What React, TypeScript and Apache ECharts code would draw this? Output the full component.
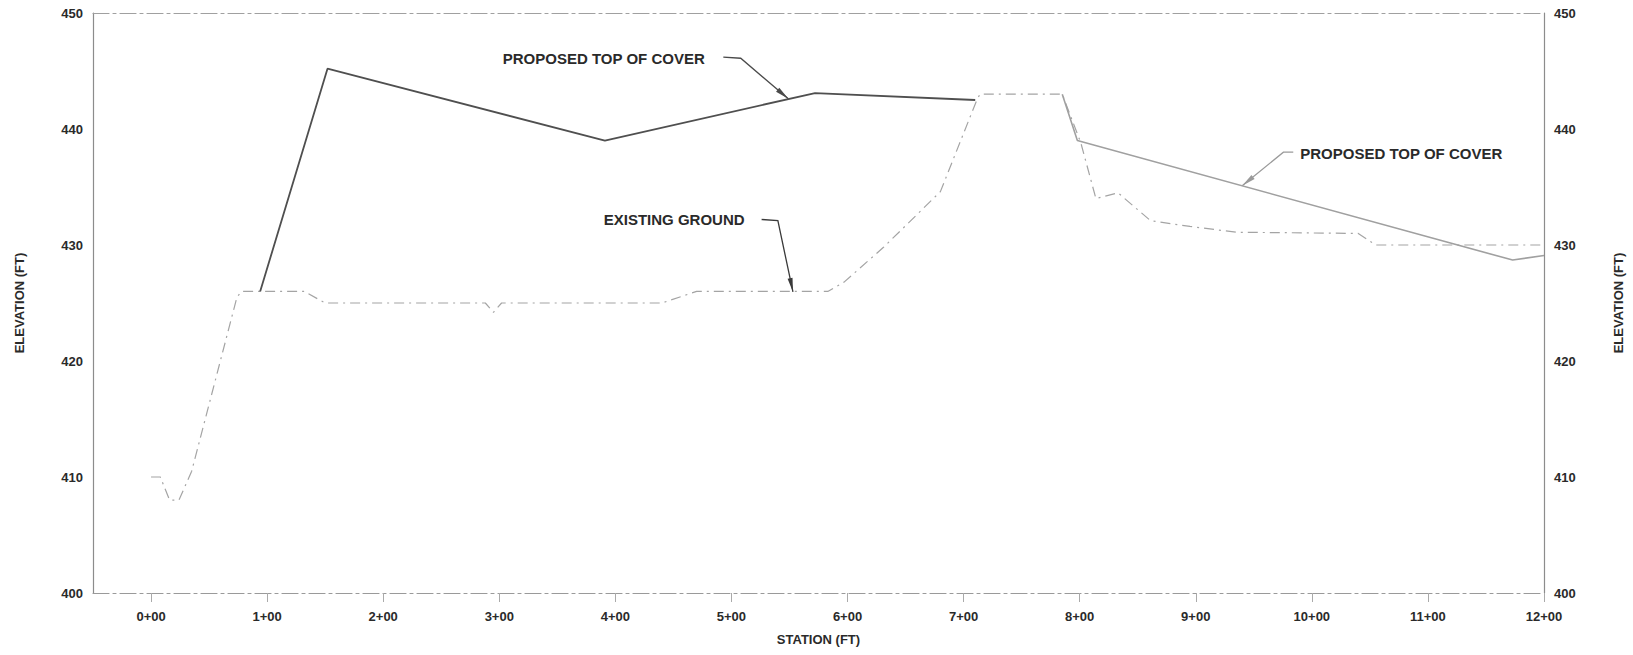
import React, { useEffect, useRef } from "react";
import * as echarts from "echarts";

// Station ticks (ft) and elevation range
const stationTicks = [0, 100, 200, 300, 400, 500, 600, 700, 800, 900, 1000, 1100, 1200];
const elevMin = 400;
const elevMax = 450;
const elevStep = 10;

// Existing ground profile
const groundStation = [0, 8, 16, 24, 35, 74, 78, 132, 150, 288, 295, 302, 440, 470, 583, 597, 631, 680, 711, 714, 785, 801, 814, 833, 861, 895, 935, 1040, 1055, 1200];
const groundElev = [410, 410, 408, 408, 410.5, 425.5, 426, 426, 425, 425, 424.2, 425, 425, 426, 426, 426.8, 429.8, 434.6, 442.4, 443, 443, 438.8, 434, 434.5, 432.1, 431.6, 431.1, 431, 430, 430];

// Proposed top of cover (west segment, darker)
const coverAStation = [94, 152, 391, 572, 710];
const coverAElev = [426, 445.2, 439, 443.1, 442.5];

// Proposed top of cover (east segment, lighter)
const coverBStation = [785, 798, 1173, 1200];
const coverBElev = [443, 439, 428.7, 429.1];

// Annotations: label anchor, leader elbow points, tip (data coords)
const annotations = [
  {
    text: "PROPOSED TOP OF COVER",
    label: [303, 446.1],
    leader: [[493, 446.2], [508, 446.1], [549, 442.6]],
    color: "#4a4a4a",
    align: "left",
  },
  {
    text: "EXISTING GROUND",
    label: [390, 432.2],
    leader: [[526, 432.2], [540, 432.1], [553, 425.95]],
    color: "#3a3a3a",
    align: "left",
  },
  {
    text: "PROPOSED TOP OF COVER",
    label: [990, 437.9],
    leader: [[984, 438.0], [975.5, 438.0], [940, 435.1]],
    color: "#9a9a9a",
    align: "left",
  },
];

const fmtStation = (v: number) => `${Math.round(v / 100)}+00`;
const FONT = '"Liberation Sans", Arial, sans-serif';

const zip = (xs: number[], ys: number[]) => xs.map((x, i) => [x, ys[i]]);

export default function App() {
  const ref = useRef<HTMLDivElement>(null);

  useEffect(() => {
    document.body.style.margin = "0";
    const chart = echarts.init(ref.current as HTMLDivElement, null, { renderer: "svg" });

    const labelStyle = { fontSize: 13, color: "#2a2a2a", fontWeight: "bold", fontFamily: FONT };

    const yAxisBase = (position: "left" | "right") => ({
      type: "value",
      position,
      min: elevMin,
      max: elevMax,
      interval: elevStep,
      axisLine: { show: true, onZero: false, lineStyle: { color: "#8c8c8c", width: 1.2 } },
      axisTick: { show: false },
      splitLine: { show: false },
      axisLabel: { margin: 10, ...labelStyle },
      name: "ELEVATION (FT)",
      nameLocation: "middle",
      nameGap: 67,
      nameTextStyle: { ...labelStyle },
    });

    chart.setOption({
      animation: false,
      backgroundColor: "#ffffff",
      grid: { left: 93, right: 86, top: 13, bottom: 62 },
      xAxis: [
        {
          type: "value",
          position: "bottom",
          min: -50,
          max: 1200,
          axisLine: { show: true, onZero: false, lineStyle: { color: "#9a9a9a", width: 1.2, type: [16, 4, 3, 4] } },
          axisTick: { show: true, customValues: stationTicks, length: 9, lineStyle: { color: "#aaa" } },
          axisLabel: {
            customValues: stationTicks,
            formatter: (v: number) => fmtStation(v),
            margin: 17,
            ...labelStyle,
          },
          splitLine: { show: false },
          name: "STATION (FT)",
          nameLocation: "middle",
          nameGap: 40,
          nameTextStyle: { ...labelStyle },
        },
        {
          type: "value",
          position: "top",
          min: -50,
          max: 1200,
          axisLine: { show: true, onZero: false, lineStyle: { color: "#a0a0a0", width: 1.2, type: [16, 4, 3, 4] } },
          axisTick: { show: false },
          axisLabel: { show: false },
          splitLine: { show: false },
        },
      ],
      yAxis: [yAxisBase("left"), { ...yAxisBase("right"), nameGap: 68 }],
      series: [
        {
          name: "Existing Ground",
          type: "line",
          xAxisIndex: 0,
          yAxisIndex: 0,
          data: zip(groundStation, groundElev),
          symbol: "none",
          silent: true,
          lineStyle: { color: "#a4a4a4", width: 1.2, type: [10, 5, 2, 5] },
        },
        {
          name: "Proposed Top of Cover",
          type: "line",
          xAxisIndex: 0,
          yAxisIndex: 0,
          data: zip(coverAStation, coverAElev),
          symbol: "none",
          silent: true,
          lineStyle: { color: "#4f4f4f", width: 1.8 },
        },
        {
          name: "Proposed Top of Cover (East)",
          type: "line",
          xAxisIndex: 0,
          yAxisIndex: 0,
          data: zip(coverBStation, coverBElev),
          symbol: "none",
          silent: true,
          lineStyle: { color: "#a0a0a0", width: 1.6 },
        },
      ],
    });

    const px = (p: number[]) => chart.convertToPixel({ seriesIndex: 0 }, p) as number[];

    const graphics: any[] = [];
    annotations.forEach((a) => {
      const lp = px(a.label);
      graphics.push({
        type: "text",
        x: lp[0],
        y: lp[1],
        silent: true,
        style: {
          text: a.text,
          fill: "#2a2a2a",
          fontSize: 15,
          fontWeight: "bold",
          fontFamily: FONT,
          align: a.align,
          verticalAlign: "middle",
        },
      });
      const pts = a.leader.map(px);
      graphics.push({
        type: "polyline",
        silent: true,
        shape: { points: pts },
        style: { stroke: a.color, lineWidth: 1.3, fill: null },
      });
      const p0 = pts[pts.length - 2];
      const tip = pts[pts.length - 1];
      const dx = tip[0] - p0[0];
      const dy = tip[1] - p0[1];
      const len = Math.hypot(dx, dy) || 1;
      const ux = dx / len;
      const uy = dy / len;
      const L = 14;
      const W = 5;
      const bx = tip[0] - ux * L;
      const by = tip[1] - uy * L;
      graphics.push({
        type: "polygon",
        silent: true,
        shape: {
          points: [
            tip,
            [bx - uy * W / 2, by + ux * W / 2],
            [bx + uy * W / 2, by - ux * W / 2],
          ],
        },
        style: { fill: a.color },
      });
    });

    chart.setOption({ graphic: graphics });

    return () => chart.dispose();
  }, []);

  return <div ref={ref} style={{ width: 1633, height: 655 }} />;
}
